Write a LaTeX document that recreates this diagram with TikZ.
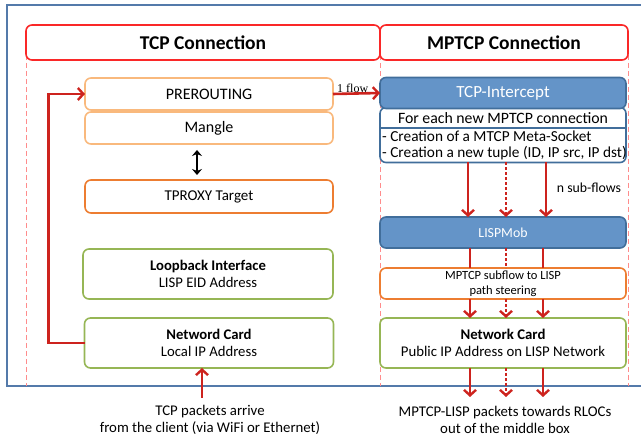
\documentclass[tikz,border=0pt]{standalone}
\usepackage{fontspec}
\setmainfont{Carlito}
\newfontfamily\serifa{Liberation Serif}
\usetikzlibrary{arrows.meta}
\definecolor{frameblue}{RGB}{84,122,170}
\definecolor{hdrred}{RGB}{250,40,40}
\definecolor{dashred}{RGB}{255,140,140}
\definecolor{lorange}{RGB}{249,185,125}
\definecolor{dorange}{RGB}{237,125,49}
\definecolor{grn}{RGB}{150,182,85}
\definecolor{bfill}{RGB}{100,148,200}
\definecolor{bline}{RGB}{65,110,155}
\definecolor{arrred}{RGB}{205,35,30}
\tikzset{
  box/.style={draw, fill=white, rounded corners=6pt, line width=1.6pt, inner sep=0pt, outer sep=0pt, align=center},
  hdr/.style={box, draw=hdrred, font=\fontsize{19.5}{22}\selectfont\bfseries},
  lor/.style={box, draw=lorange, font=\fontsize{16}{18}\selectfont},
  dor/.style={box, draw=dorange},
  gbox/.style={box, draw=grn, font=\fontsize{14.7}{17}\selectfont},
  bbox/.style={box, draw=bline, fill=bfill, text=white},
  arr/.style={draw=arrred, line width=2.6pt, -{Straight Barb[length=5.5pt,width=12pt,line width=2.4pt]}},
  ln/.style={draw=arrred, line width=2.6pt},
  dotl/.style={dash pattern=on 2.6pt off 2.4pt},
  dsh/.style={draw=dashred, line width=1pt, dash pattern=on 5pt off 3pt},
}
\begin{document}
\begin{tikzpicture}[x=1pt,y=-1pt]
\useasboundingbox (0,0) rectangle (641,438);
\clip (0,0) rectangle (641,438);
% outer frame
\draw[frameblue, line width=2pt] (7,5) rectangle (660,386);
% dashed separators
\draw[dsh] (26,55) -- (26,386);
\draw[dsh] (380,55) -- (380,386);
\draw[dsh] (628,55) -- (628,386);
% headers
\node[hdr, minimum width=354pt, minimum height=35pt] (hl) at (203,42.5) {TCP Connection};
\node[hdr, minimum width=248pt, minimum height=35pt] (hr) at (504,42.5) {MPTCP Connection};
% left column
\node[lor, minimum width=248pt, minimum height=32pt] (pre) at (209,94) {PREROUTING};
\node[lor, minimum width=248pt, minimum height=32pt] (man) at (209,128) {Mangle};
\node[dor, minimum width=248pt, minimum height=33pt, font=\fontsize{15}{17}\selectfont] (tpx) at (209,196.5) {TPROXY Target};
\node[gbox, minimum width=250pt, minimum height=50pt] (lb) at (208,274) {\textbf{Loopback Interface}\\LISP EID Address};
\node[gbox, minimum width=249pt, minimum height=50pt] (lnc) at (209,343) {\textbf{Netword Card}\\Local IP Address};
% right column
\node[box, draw=bline, minimum width=246pt, minimum height=55pt] (tib) at (503,135) {};
\node[bbox, minimum width=246pt, minimum height=31pt, font=\fontsize{17}{20}\selectfont] (ti) at (503,93) {TCP-Intercept};
\draw[bline, line width=1.4pt] (tib.west |- 0,128) -- (tib.east |- 0,128);
\node[font=\fontsize{15.8}{18}\selectfont, inner sep=0pt] (tih) at (503,118.5) {For each new MPTCP connection};
\node[font=\fontsize{15.3}{16}\selectfont, inner sep=0pt, align=left, anchor=west] (til) at (382,145) {- Creation of a MTCP Meta-Socket\\- Creation a new tuple (ID, IP src, IP dst)};
\node[bbox, minimum width=246pt, minimum height=31pt, font=\fontsize{13.8}{16}\selectfont] (lm) at (503,232.5) {LISPMob};
\node[box, draw=dorange, minimum width=246pt, minimum height=31pt, font=\fontsize{12.5}{15}\selectfont] (ps) at (503,283.5) {MPTCP subflow to LISP\\path steering};
\node[gbox, minimum width=246pt, minimum height=50pt, font=\fontsize{14.8}{17}\selectfont] (rnc) at (503,343) {\textbf{Network Card}\\Public IP Address on LISP Network};
% bottom texts
\node[font=\fontsize{14.8}{17.5}\selectfont, align=center, inner sep=0pt] (bl) at (210,420) {TCP packets arrive\\from the client (via WiFi or Ethernet)};
\node[font=\fontsize{14.8}{17.5}\selectfont, align=center, inner sep=0pt] (br) at (505,420) {MPTCP-LISP packets towards RLOCs\\out of the middle box};
\node[font=\fontsize{13.8}{16}\selectfont, inner sep=0pt] (nsf) at (589,188) {n sub-flows};
% arrows left
\draw[arr] (lnc.west) -- ++(-36,0) |- (pre.west);
\draw[arr] (pre.east) -- node[above=-1pt, pos=0.42, font=\serifa\fontsize{12}{14}\selectfont, inner sep=1pt] {1 flow} (ti.west);
\draw[line width=2.2pt, {Stealth[length=6pt,width=10pt]}-{Stealth[length=6pt,width=10pt]}, shorten <=6pt, shorten >=5pt] ([xshift=-12pt]man.south) -- ([xshift=-12pt]tpx.north);
\coordinate (lin) at (202,398);
\draw[arr] (lin) -- ([xshift=-7pt]lnc.south);
% arrows right: intercept -> lispmob
\draw[arr] ([xshift=-35pt]tib.south) -- ([xshift=-35pt]lm.north);
\draw[arr, dotl] ([xshift=3pt]tib.south) -- ([xshift=3pt]lm.north);
\draw[arr] ([xshift=43pt]tib.south) -- ([xshift=43pt]lm.north);
% lispmob -> steering -> card
\draw[ln] ([xshift=-33pt]lm.south) -- ([xshift=-33pt]ps.north);
\draw[ln, dotl] ([xshift=3pt]lm.south) -- ([xshift=3pt]ps.north);
\draw[ln] ([xshift=40pt]lm.south) -- ([xshift=40pt]ps.north);
\draw[arr] ([xshift=-33pt]ps.south) -- ([xshift=-33pt]rnc.north);
\draw[arr, dotl] ([xshift=3pt]ps.south) -- ([xshift=3pt]rnc.north);
\draw[arr] ([xshift=40pt]ps.south) -- ([xshift=40pt]rnc.north);
% card -> out
\draw[arr] ([xshift=-33pt]rnc.south) -- ++(0,29);
\draw[arr, dotl] ([xshift=3pt]rnc.south) -- ++(0,29);
\draw[arr] ([xshift=40pt]rnc.south) -- ++(0,29);
\end{tikzpicture}
\end{document}
